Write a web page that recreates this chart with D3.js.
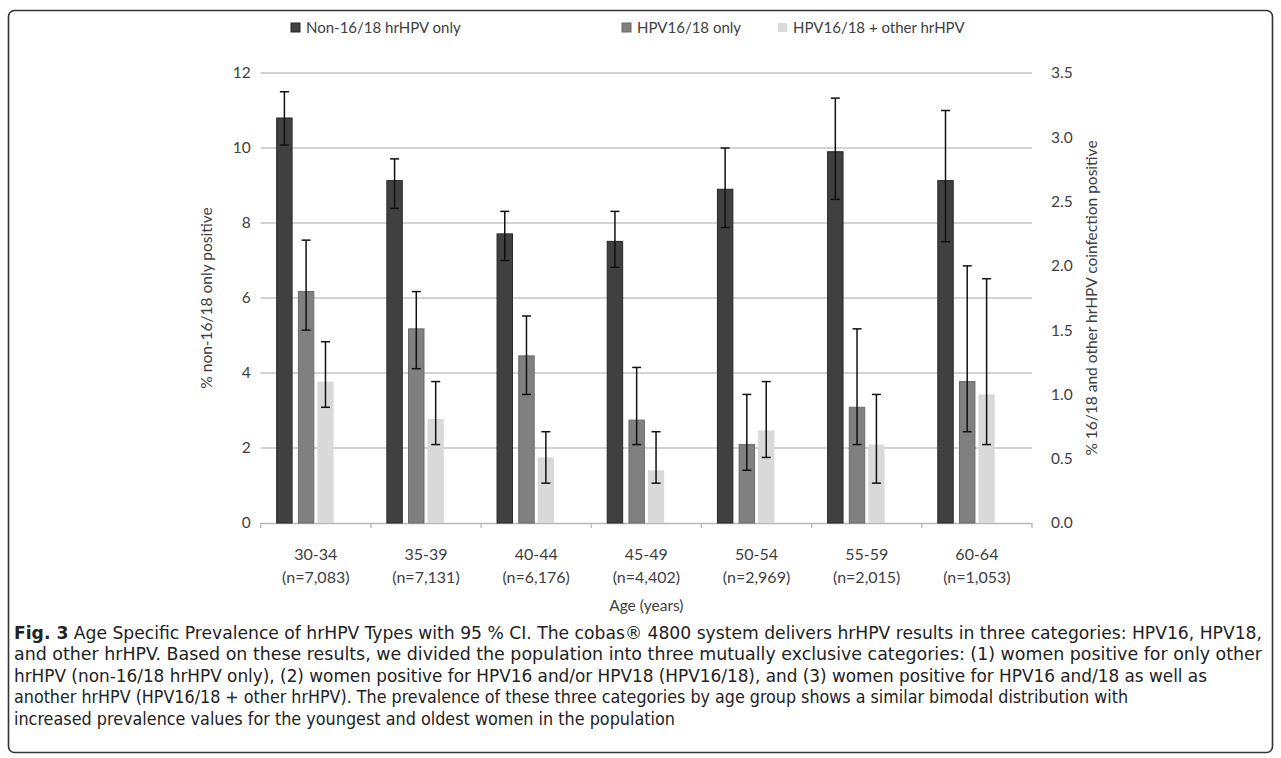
<!DOCTYPE html>
<html>
<head>
<meta charset="utf-8">
<script src="https://cdn.jsdelivr.net/npm/d3@7"></script>
<style>
  body { margin: 0; background: #fff; }
  svg text { font-family: Lato, "Open Sans", sans-serif; }
</style>
</head>
<body>
<div class="container"></div>
<script>
// categorias y valores
const ages = ["30-34", "35-39", "40-44", "45-49", "50-54", "55-59", "60-64"]
const ns = ["(n=7,083)", "(n=7,131)", "(n=6,176)", "(n=4,402)", "(n=2,969)", "(n=2,015)", "(n=1,053)"]

// eje izquierdo (%)
const non1618 = [10.8, 9.13, 7.71, 7.51, 8.9, 9.9, 9.13]
const non1618Lo = [10.08, 8.39, 7.0, 6.82, 7.88, 8.63, 7.5]
const non1618Hi = [11.5, 9.71, 8.31, 8.31, 10.0, 11.33, 11.0]

// eje derecho (%)
const hpv1618 = [1.8, 1.51, 1.3, 0.8, 0.61, 0.9, 1.1]
const hpv1618Lo = [1.5, 1.2, 1.0, 0.61, 0.41, 0.61, 0.71]
const hpv1618Hi = [2.2, 1.8, 1.61, 1.21, 1.0, 1.51, 2.0]
const coinf = [1.1, 0.81, 0.51, 0.41, 0.72, 0.61, 1.0]
const coinfLo = [0.9, 0.61, 0.31, 0.31, 0.51, 0.31, 0.61]
const coinfHi = [1.41, 1.1, 0.71, 0.71, 1.1, 1.0, 1.9]

const leftTicks = [0, 2, 4, 6, 8, 10, 12]
const rightTicks = [0, 0.5, 1.0, 1.5, 2.0, 2.5, 3.0, 3.5]
const legendLabels = ["Non-16/18 hrHPV only", "HPV16/18 only", "HPV16/18 + other hrHPV"]

const caption = [
    " Age Specific Prevalence of hrHPV Types with 95 % CI. The cobas® 4800 system delivers hrHPV results in three categories: HPV16, HPV18,",
    "and other hrHPV. Based on these results, we divided the population into three mutually exclusive categories: (1) women positive for only other",
    "hrHPV (non-16/18 hrHPV only), (2) women positive for HPV16 and/or HPV18 (HPV16/18), and (3) women positive for HPV16 and/18 as well as",
    "another hrHPV (HPV16/18 + other hrHPV). The prevalence of these three categories by age group shows a similar bimodal distribution with",
    "increased prevalence values for the youngest and oldest women in the population"
]

const size = {WIDTH: 1281, HEIGHT: 758}
const plot = {left: 260.7, right: 1032, top: 73, bottom: 523}

const svg = d3.select(".container")
    .append("svg")
    .attr("width", size.WIDTH)
    .attr("height", size.HEIGHT)

// marco redondeado
svg.append("rect")
    .attr("x", 8.5).attr("y", 10.5)
    .attr("width", 1264).attr("height", 742)
    .attr("rx", 6)
    .attr("fill", "none")
    .attr("stroke", "#333")
    .attr("stroke-width", 1.6)

const x = d3.scaleBand()
    .domain(ages)
    .range([plot.left, plot.right])
    .paddingInner(0).paddingOuter(0)

const yL = d3.scaleLinear().domain([0, 12]).range([plot.bottom, plot.top])
const yR = d3.scaleLinear().domain([0, 3.5]).range([plot.bottom, plot.top])

// lineas de grilla
svg.selectAll(".grid")
    .data(leftTicks.filter((d) => d > 0))
    .join("line")
    .attr("class", "grid")
    .attr("x1", plot.left).attr("x2", plot.right)
    .attr("y1", (d) => yL(d)).attr("y2", (d) => yL(d))
    .attr("stroke", "#c4c4c4")
    .attr("stroke-width", 1.5)

// eje x
const xAxis = d3.axisBottom(x).tickSize(0).tickFormat("")
svg.append("g")
    .attr("transform", `translate(0 ${plot.bottom})`)
    .call(xAxis)
    .call((g) => g.select(".domain").attr("stroke", "#b8b8b8").attr("stroke-width", 1.5))

const bounds = ages.map((d) => x(d)).concat([plot.right])
svg.selectAll(".xtick")
    .data(bounds)
    .join("line")
    .attr("class", "xtick")
    .attr("x1", (d) => d).attr("x2", (d) => d)
    .attr("y1", plot.bottom).attr("y2", plot.bottom + 5)
    .attr("stroke", "#b8b8b8")
    .attr("stroke-width", 1.3)

// ejes y
const leftAxis = d3.axisLeft(yL).tickValues(leftTicks).tickSize(0).tickPadding(10)
svg.append("g")
    .attr("transform", `translate(${plot.left} 0)`)
    .call(leftAxis)
    .call((g) => g.select(".domain").remove())
    .call((g) => g.selectAll("text").attr("font-size", "15.5px").attr("fill", "#404040")
        .attr("font-family", "Lato, sans-serif"))

const rightAxis = d3.axisRight(yR).tickValues(rightTicks).tickSize(0).tickPadding(19)
    .tickFormat(d3.format(".1f"))
svg.append("g")
    .attr("transform", `translate(${plot.right} 0)`)
    .call(rightAxis)
    .call((g) => g.select(".domain").remove())
    .call((g) => g.selectAll("text").attr("font-size", "15.5px").attr("fill", "#404040")
        .attr("font-family", "Lato, sans-serif"))

// series
const series = [
    {vals: non1618, lo: non1618Lo, hi: non1618Hi, scale: yL, fill: "#404040", stroke: "#262626", off: 0.145, w: 0.14},
    {vals: hpv1618, lo: hpv1618Lo, hi: hpv1618Hi, scale: yR, fill: "#808080", stroke: "#6a6a6a", off: 0.342, w: 0.14},
    {vals: coinf, lo: coinfLo, hi: coinfHi, scale: yR, fill: "#d9d9d9", stroke: "none", off: 0.514, w: 0.148}
]

series.forEach((s) => {
    const bw = x.bandwidth()
    const cx = (i) => x(ages[i]) + bw * (s.off + s.w / 2)
    svg.append("g")
        .selectAll("rect")
        .data(s.vals)
        .join("rect")
        .attr("x", (_, i) => x(ages[i]) + bw * s.off)
        .attr("width", bw * s.w)
        .attr("y", (d) => s.scale(d))
        .attr("height", (d) => plot.bottom - s.scale(d))
        .attr("fill", s.fill)
        .attr("stroke", s.stroke)
        .attr("stroke-width", 1)

    const eb = svg.append("g").attr("stroke", "#111").attr("stroke-width", 1.5)
    eb.selectAll(".v")
        .data(s.vals)
        .join("line")
        .attr("x1", (_, i) => cx(i)).attr("x2", (_, i) => cx(i))
        .attr("y1", (_, i) => s.scale(s.lo[i])).attr("y2", (_, i) => s.scale(s.hi[i]))
    eb.selectAll(".capHi")
        .data(s.vals)
        .join("line")
        .attr("x1", (_, i) => cx(i) - 4.5).attr("x2", (_, i) => cx(i) + 4.5)
        .attr("y1", (_, i) => s.scale(s.hi[i])).attr("y2", (_, i) => s.scale(s.hi[i]))
    eb.selectAll(".capLo")
        .data(s.vals)
        .join("line")
        .attr("x1", (_, i) => cx(i) - 4.5).attr("x2", (_, i) => cx(i) + 4.5)
        .attr("y1", (_, i) => s.scale(s.lo[i])).attr("y2", (_, i) => s.scale(s.lo[i]))
})

// etiquetas de categoria
svg.selectAll(".agelab")
    .data(ages)
    .join("text")
    .text((d) => d)
    .attr("x", (d) => x(d) + x.bandwidth() / 2)
    .attr("y", 560)
    .attr("text-anchor", "middle")
    .attr("font-size", "16px")
    .attr("fill", "#404040")

svg.selectAll(".nlab")
    .data(ns)
    .join("text")
    .text((d) => d)
    .attr("x", (_, i) => x(ages[i]) + x.bandwidth() / 2)
    .attr("y", 583)
    .attr("text-anchor", "middle")
    .attr("font-size", "16px")
    .attr("fill", "#404040")

svg.append("text")
    .text("Age (years)")
    .attr("x", (plot.left + plot.right) / 2)
    .attr("y", 611)
    .attr("text-anchor", "middle")
    .attr("font-size", "15.5px")
    .attr("fill", "#404040")

svg.append("text")
    .text("% non-16/18 only positive")
    .attr("transform", `translate(212 ${(plot.top + plot.bottom) / 2}) rotate(-90)`)
    .attr("text-anchor", "middle")
    .attr("font-size", "15.5px")
    .attr("fill", "#404040")

svg.append("text")
    .text("% 16/18 and other hrHPV coinfection positive")
    .attr("transform", `translate(1097 ${(plot.top + plot.bottom) / 2}) rotate(-90)`)
    .attr("text-anchor", "middle")
    .attr("font-size", "15.5px")
    .attr("fill", "#404040")

// leyenda
const legX = [291, 622, 778]
const legend = svg.selectAll(".leg")
    .data(legendLabels)
    .join("g")
    .attr("transform", (_, i) => `translate(${legX[i]} 28)`)
legend.append("rect")
    .attr("x", 0).attr("y", -5)
    .attr("width", 9).attr("height", 9)
    .attr("fill", (_, i) => series[i].fill)
    .attr("stroke", (_, i) => i < 2 ? series[i].stroke : "none")
legend.append("text")
    .text((d) => d)
    .attr("x", 15).attr("y", 5)
    .attr("font-size", "15px")
    .attr("fill", "#404040")

// leyenda de la figura
const capEnds = [1262, 1262, 1207, 1128, 675]
const capStart = 14
svg.selectAll(".cap")
    .data(caption)
    .join("text")
    .attr("class", "cap")
    .attr("x", capStart)
    .attr("y", (_, i) => 638.5 + i * 21.6)
    .attr("textLength", (_, i) => capEnds[i] - capStart)
    .attr("lengthAdjust", "spacingAndGlyphs")
    .attr("font-size", "18px")
    .attr("fill", "#222")
    .style("font-family", "'Liberation Sans Narrow', 'DejaVu Sans Condensed', 'Liberation Sans', sans-serif")
    .each(function (d, i) {
        const t = d3.select(this)
        if (i === 0) {
            t.append("tspan").attr("font-weight", "bold").text("Fig. 3")
        }
        t.append("tspan").text(d)
    })
</script>
</body>
</html>
